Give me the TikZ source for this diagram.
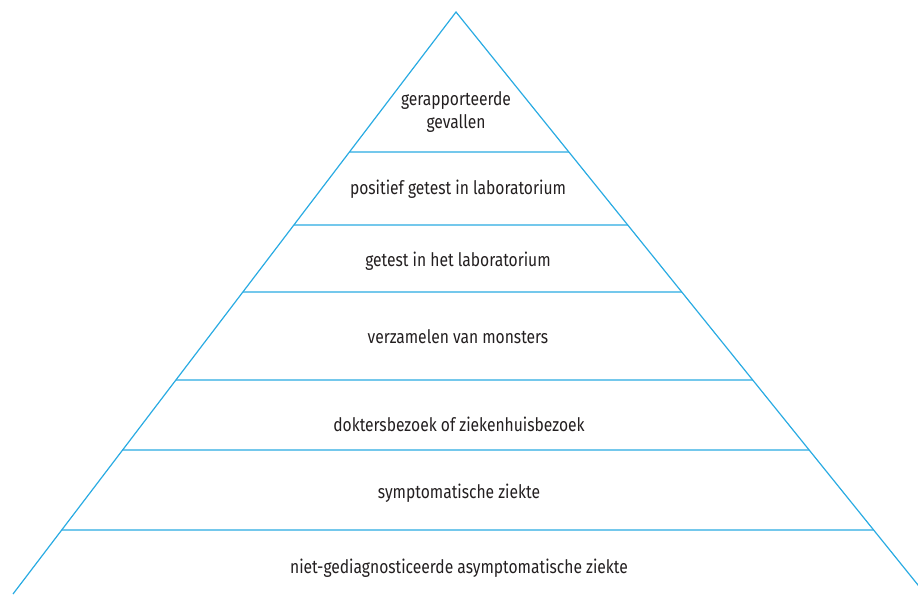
\documentclass[tikz,border=0pt]{standalone}
\usepackage{fontspec}
\setmainfont[FakeStretch=0.84]{Fira Sans}
\definecolor{pyr}{HTML}{29ABE2}
\definecolor{txt}{HTML}{231F20}
\begin{document}
\begin{tikzpicture}[x=1pt,y=-1pt,
  edge/.style={draw=pyr,line width=1.2pt},
  lbl/.style={text=txt,font=\fontsize{18.6}{23}\selectfont,align=center,inner sep=0pt}]
\useasboundingbox (0,0) rectangle (918,595);
\clip (0,0) rectangle (918,595);
\coordinate (A) at (456,12);
\coordinate (BL) at (13,594);
\coordinate (BR) at (930,599.9);
\draw[edge] (BL) -- (A) -- (BR);
\foreach \y/\n in {152/a,225/b,292/c,380/d,450/e,530/f}{
  \coordinate (L\n) at (intersection of A--BL and 0,\y--1,\y);
  \coordinate (R\n) at (intersection of A--BR and 0,\y--1,\y);
  \draw[edge] (L\n) -- (R\n);
}
\node[lbl] (t1) at (456,112) {gerapporteerde\\gevallen};
\node[lbl] (t2) at (458,189) {positief getest in laboratorium};
\node[lbl] (t3) at (458,261) {getest in het laboratorium};
\node[lbl] (t4) at (458,337) {verzamelen van monsters};
\node[lbl] (t5) at (459,424) {doktersbezoek of ziekenhuisbezoek};
\node[lbl] (t6) at (459,493) {symptomatische ziekte};
\node[lbl] (t7) at (459,568) {niet-gediagnosticeerde asymptomatische ziekte};
\end{tikzpicture}
\end{document}
